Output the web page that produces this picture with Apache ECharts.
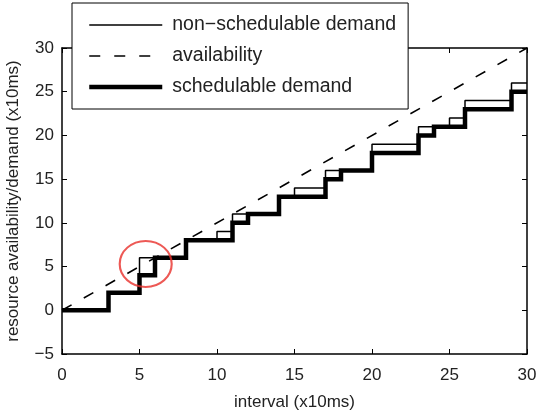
<!DOCTYPE html>
<html>
<head>
<meta charset="utf-8">
<script src="https://cdn.jsdelivr.net/npm/echarts@6/dist/echarts.min.js"></script>
<style>
  html, body { margin: 0; padding: 0; background: #fff; }
  #chart { width: 539px; height: 415px; }
</style>
</head>
<body>
<div id="chart"></div>
<script>
  // step data: value holds from x until the next x
  var nonSchedX = [0, 3, 5, 8, 10, 11, 14, 15, 17, 20, 23, 25, 26, 29, 30]
  var nonSchedY = [0, 2, 6, 8, 9, 11, 13, 14, 16, 19, 21, 22, 24, 26, 26]
  var schedX = [0, 3, 5, 6, 8, 11, 12, 14, 17, 18, 20, 23, 24, 26, 29, 30]
  var schedY = [0, 2, 4, 6, 8, 10, 11, 13, 15, 16, 18, 20, 21, 23, 25, 25]
  var availX = [0, 30]
  var availY = [0, 30]
  var highlight = [[5.4, 5.3]]

  var xTicks = { min: 0, max: 30, interval: 5 }
  var yTicks = { min: -5, max: 30, interval: 5 }

  function pairs (xs, ys) {
    return xs.map(function (x, i) { return [x, ys[i]] })
  }

  var font = 'Liberation Sans, Arial, sans-serif'
  var ink = '#222'
  var noDot = { color: 'rgba(0,0,0,0)', opacity: 0 }

  var myChart = echarts.init(document.getElementById('chart'))

  function boxAxis (extra) {
    return Object.assign({
      type: 'value',
      splitLine: { show: false },
      axisLine: { show: true, onZero: false, lineStyle: { color: '#000', width: 1.5 } },
      axisTick: { show: true, inside: true, length: 5, lineStyle: { color: '#000', width: 1 } },
      axisLabel: { show: false }
    }, extra)
  }

  var option = {
    animation: false,
    backgroundColor: '#fff',
    grid: { left: 62, right: 12, top: 48, bottom: 61, outerBoundsMode: 'none' },
    legend: {
      orient: 'vertical',
      left: 72,
      top: 3,
      padding: [12, 12, 12, 15],
      itemWidth: 73,
      itemHeight: 14,
      itemGap: 11,
      backgroundColor: '#fff',
      borderColor: '#000',
      borderWidth: 1,
      itemStyle: noDot,
      textStyle: { fontFamily: font, fontSize: 19.5, color: ink, padding: [0, 0, 0, 5] },
      data: [
        { name: 'non\u2212schedulable demand', itemStyle: noDot, lineStyle: { width: 1.5 } },
        { name: 'availability', itemStyle: noDot, lineStyle: { width: 1.6 } },
        { name: 'schedulable demand', itemStyle: noDot, lineStyle: { width: 4.5 } }
      ]
    },
    xAxis: [
      boxAxis({
        min: xTicks.min, max: xTicks.max, interval: xTicks.interval,
        position: 'bottom',
        name: 'interval (x10ms)',
        nameLocation: 'middle',
        nameGap: 40,
        nameTextStyle: { fontFamily: font, fontSize: 17, color: ink },
        axisLabel: { show: true, margin: 13, fontFamily: font, fontSize: 17, color: ink }
      }),
      boxAxis({ min: xTicks.min, max: xTicks.max, interval: xTicks.interval, position: 'top' })
    ],
    yAxis: [
      boxAxis({
        min: yTicks.min, max: yTicks.max, interval: yTicks.interval,
        position: 'left',
        name: 'resource availability/demand (x10ms)',
        nameLocation: 'middle',
        nameGap: 40,
        nameTextStyle: { fontFamily: font, fontSize: 17, color: ink },
        axisLabel: {
          show: true, margin: 8, fontFamily: font, fontSize: 17, color: ink,
          formatter: function (v) { return String(v).replace('-', '\u2212') }
        }
      }),
      boxAxis({ min: yTicks.min, max: yTicks.max, interval: yTicks.interval, position: 'right' })
    ],
    series: [{
      name: 'schedulable demand',
      type: 'line',
      step: 'end',
      symbol: 'none',
      data: pairs(schedX, schedY),
      lineStyle: { color: '#000', width: 4.5, join: 'miter' },
      itemStyle: noDot,
      z: 2
    }, {
      name: 'non\u2212schedulable demand',
      type: 'line',
      step: 'end',
      symbol: 'none',
      data: pairs(nonSchedX, nonSchedY),
      lineStyle: { color: '#000', width: 1.5 },
      itemStyle: noDot,
      z: 3
    }, {
      name: 'availability',
      type: 'line',
      symbol: 'none',
      data: pairs(availX, availY),
      lineStyle: { color: '#000', width: 1.6, type: [11, 14] },
      itemStyle: noDot,
      z: 3
    }, {
      type: 'scatter',
      data: highlight,
      symbol: 'circle',
      symbolSize: [52, 46],
      itemStyle: { color: 'rgba(0,0,0,0)', borderColor: '#e8302a', borderWidth: 2 },
      silent: true,
      z: 4
    }]
  }
  myChart.setOption(option)
</script>
</body>
</html>
